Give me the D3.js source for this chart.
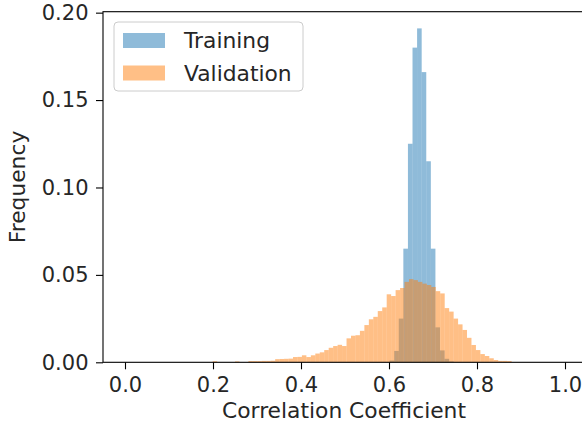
<!DOCTYPE html>
<html>
<head>
<meta charset="utf-8">
<script src="https://cdn.jsdelivr.net/npm/d3@7"></script>
<style>
  body { margin: 0; background: #fff; }
  text { font-family: "DejaVu Sans", sans-serif; }
</style>
</head>
<body>
<svg id="chart" width="582" height="429"></svg>
<script>
// ---- data ----
const seriesNames = ["Training", "Validation"];
const seriesColors = ["#1f77b4", "#ff7f0e"];

const trainingBinStart = 0.6014;
const trainingBinWidth = 0.01041;
const trainingFreq = [0.001, 0.0065, 0.025, 0.065, 0.125, 0.18, 0.191, 0.166, 0.115, 0.065, 0.02, 0.0068, 0.002, 0.0005];

const validationBinStart = 0.1993;
const validationBinWidth = 0.01014;
const validationFreq = [
  0.0006, 0, 0, 0, 0, 0.0005, 0, 0, 0.0007, 0.0007,
  0.0007, 0.0008, 0.0008, 0.0009, 0.0018, 0.0019, 0.002, 0.0021, 0.003, 0.0031,
  0.004, 0.003, 0.004, 0.005, 0.0057, 0.007, 0.0083, 0.0093, 0.010, 0.0093,
  0.0137, 0.0152, 0.0155, 0.018, 0.0213, 0.0246, 0.026, 0.0293, 0.0314, 0.0389,
  0.0379, 0.0413, 0.0425, 0.046, 0.0476, 0.047, 0.046, 0.045, 0.0442, 0.0431,
  0.0407, 0.0394, 0.031, 0.029, 0.025, 0.0217, 0.0185, 0.014, 0.0099, 0.007,
  0.0047, 0.0036, 0.0023, 0.0013, 0.0008, 0.0008, 0.0007
];

const xTicks = [0.0, 0.2, 0.4, 0.6, 0.8, 1.0];
const yTicks = [0.00, 0.05, 0.10, 0.15, 0.20];
const xLabel = "Correlation Coefficient";
const yLabel = "Frequency";

// ---- layout ----
const svg = d3.select("#chart");
const plot = { left: 103, right: 587, top: 11.7, bottom: 362.3 };
const tickFont = 21;
const labelFont = 21.8;

const toBins = (start, width, freq) => freq.map((v, i) => ({ x0: start + i * width, x1: start + (i + 1) * width, v }));
const trainingBins = toBins(trainingBinStart, trainingBinWidth, trainingFreq);
const validationBins = toBins(validationBinStart, validationBinWidth, validationFreq);

const yMax = d3.max(trainingFreq.concat(validationFreq)) * 1.05;
const x = d3.scaleLinear().domain([-0.05, 1.05]).range([plot.left, plot.right]);
const y = d3.scaleLinear().domain([0, yMax]).range([plot.bottom, plot.top]);

const g = svg.append("g");

[trainingBins, validationBins].forEach((bins, si) => {
  g.append("g").selectAll("rect").data(bins.filter(d => d.v > 0)).join("rect")
    .attr("x", d => x(d.x0))
    .attr("width", d => x(d.x1) - x(d.x0))
    .attr("y", d => y(d.v))
    .attr("height", d => y(0) - y(d.v))
    .attr("fill", seriesColors[si])
    .attr("fill-opacity", 0.5);
});

// axes
const xAxis = d3.axisBottom(x).tickValues(xTicks).tickFormat(d3.format(".1f")).tickSize(7).tickPadding(8).tickSizeOuter(0);
const yAxis = d3.axisLeft(y).tickValues(yTicks).tickFormat(d3.format(".2f")).tickSize(7).tickPadding(7.5).tickSizeOuter(0);

const gx = svg.append("g").attr("transform", `translate(0,${plot.bottom})`).call(xAxis);
const gy = svg.append("g").attr("transform", `translate(${plot.left},0)`).call(yAxis);
[gx, gy].forEach(a => {
  a.select(".domain").remove();
  a.selectAll(".tick line").attr("stroke", "#000").attr("stroke-width", 1.1);
  a.selectAll(".tick text").attr("fill", "#262626").style("font-size", tickFont + "px").attr("font-family", "DejaVu Sans");
});

// spines (left, bottom, top; right falls outside the canvas)
svg.append("rect")
  .attr("x", plot.left).attr("y", plot.top)
  .attr("width", plot.right - plot.left).attr("height", plot.bottom - plot.top)
  .attr("fill", "none").attr("stroke", "#000").attr("stroke-width", 1.1);

// labels
svg.append("text")
  .attr("x", 344).attr("y", 418)
  .attr("text-anchor", "middle").attr("fill", "#262626")
  .style("font-size", labelFont + "px").text(xLabel);

svg.append("text")
  .attr("transform", `translate(25,${(plot.top + plot.bottom) / 2}) rotate(-90)`)
  .attr("text-anchor", "middle").attr("fill", "#262626")
  .style("font-size", labelFont + "px").text(yLabel);

// legend
const lg = svg.append("g");
lg.append("rect")
  .attr("x", 114).attr("y", 22).attr("width", 189).attr("height", 69)
  .attr("rx", 4).attr("fill", "#fff").attr("fill-opacity", 0.8)
  .attr("stroke", "#cccccc").attr("stroke-width", 1);
seriesNames.forEach((name, i) => {
  const yy = 33 + i * 32.5;
  lg.append("rect").attr("x", 123).attr("y", yy).attr("width", 42).attr("height", 15)
    .attr("fill", seriesColors[i]).attr("fill-opacity", 0.5);
  lg.append("text").attr("x", 184).attr("y", yy + 15)
    .attr("fill", "#262626").style("font-size", labelFont + "px").text(name);
});
</script>
</body>
</html>
